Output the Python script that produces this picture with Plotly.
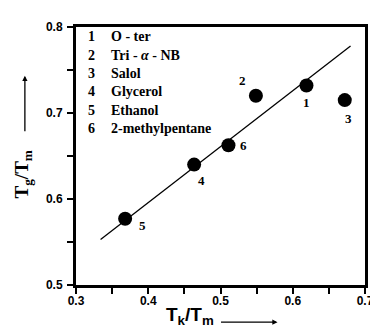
import plotly.graph_objects as go

# Data
labels = ["1", "2", "3", "4", "5", "6"]
names = ["O - ter", "Tri - <i>α</i> - NB", "Salol", "Glycerol", "Ethanol", "2-methylpentane"]
tk_tm = [0.619, 0.549, 0.672, 0.4635, 0.368, 0.511]
tg_tm = [0.732, 0.720, 0.715, 0.640, 0.577, 0.6625]
fit_x = [0.334, 0.680]
fit_y = [0.553, 0.778]
xtick_vals = [0.3, 0.35, 0.4, 0.45, 0.5, 0.55, 0.6, 0.65, 0.7]
xtick_text = ["0.3", "", "0.4", "", "0.5", "", "0.6", "", "0.7"]
ytick_vals = [0.5, 0.55, 0.6, 0.65, 0.7, 0.75, 0.8]
ytick_text = ["0.5", "", "0.6", "", "0.7", "", "0.8"]

# label offsets (px)
lab_dx = [0, -13, 4, 7, 17, 15]
lab_dy = [-17, 15, -18, -16, -7, 0]

serif = "Liberation Serif"
sans = "Liberation Sans"

fig = go.Figure()
fig.add_trace(go.Scatter(x=fit_x, y=fit_y, mode="lines",
                         line=dict(color="black", width=1.3), hoverinfo="skip"))
fig.add_trace(go.Scatter(x=tk_tm, y=tg_tm, mode="markers",
                         marker=dict(color="black", size=14)))

for i, lab in enumerate(labels):
    fig.add_annotation(x=tk_tm[i], y=tg_tm[i], text="<b>%s</b>" % lab, showarrow=False,
                       xshift=lab_dx[i], yshift=lab_dy[i],
                       font=dict(family=serif, size=13, color="black"))

# legend-like list
for i, (lab, nm) in enumerate(zip(labels, names)):
    yy = 23 + i * 18.8
    fig.add_annotation(xref="paper", yref="paper", x=(78 - 68) / 294, y=1 - (yy - 13) / 264,
                       text="<b>%s</b>" % lab, showarrow=False, xanchor="left", yanchor="middle",
                       font=dict(family=serif, size=14, color="black"))
    fig.add_annotation(xref="paper", yref="paper", x=(102 - 68) / 294, y=1 - (yy - 13) / 264,
                       text="<b>%s</b>" % nm, showarrow=False, xanchor="left", yanchor="middle",
                       font=dict(family=serif, size=14, color="black"))

# axis titles
fig.add_annotation(xref="paper", yref="paper", x=(210 - 68) / 294, y=-(309 - 277) / 264,
                   text="<b>T<sub>k</sub>/T<sub>m</sub></b>", showarrow=False,
                   xanchor="right", yanchor="middle",
                   font=dict(family=sans, size=19, color="black"))
fig.add_annotation(xref="paper", yref="paper", x=(273 - 68) / 294, y=-(315 - 277) / 264,
                   ax=-58, ay=0, text="", showarrow=True, arrowhead=2, arrowsize=0.8,
                   arrowwidth=1.3, arrowcolor="black")
fig.add_annotation(xref="paper", yref="paper", x=-(68 - 14) / 294, y=1 - (164 - 13) / 264,
                   text="<b>T<sub>g</sub>/T<sub>m</sub></b>", showarrow=False, textangle=-90,
                   xanchor="center", yanchor="middle",
                   font=dict(family=serif, size=19, color="black"))
fig.add_annotation(xref="paper", yref="paper", x=-(68 - 16) / 294, y=1 - (63 - 13) / 264,
                   ax=0, ay=57, text="", showarrow=True, arrowhead=2, arrowsize=0.8,
                   arrowwidth=1.3, arrowcolor="black")

axis_common = dict(showgrid=False, zeroline=False, showline=True, linecolor="black",
                   linewidth=3, mirror=True, ticks="outside", ticklen=6, tickwidth=2,
                   tickcolor="black", tickmode="array",
                   tickfont=dict(family=sans, size=12, color="black"))
fig.update_xaxes(range=[0.3, 0.7], tickvals=xtick_vals, ticktext=["<b>%s</b>" % t if t else "" for t in xtick_text],
                 ticklabelstandoff=-3, **axis_common)
fig.update_yaxes(range=[0.5, 0.8], tickvals=ytick_vals, ticktext=["<b>%s</b>" % t if t else "" for t in ytick_text],
                 ticklabelstandoff=2, **axis_common)

fig.update_layout(width=378, height=334, margin=dict(l=68, r=16, t=13, b=57),
                  paper_bgcolor="white", plot_bgcolor="white", showlegend=False)

fig.write_html("out.html")
